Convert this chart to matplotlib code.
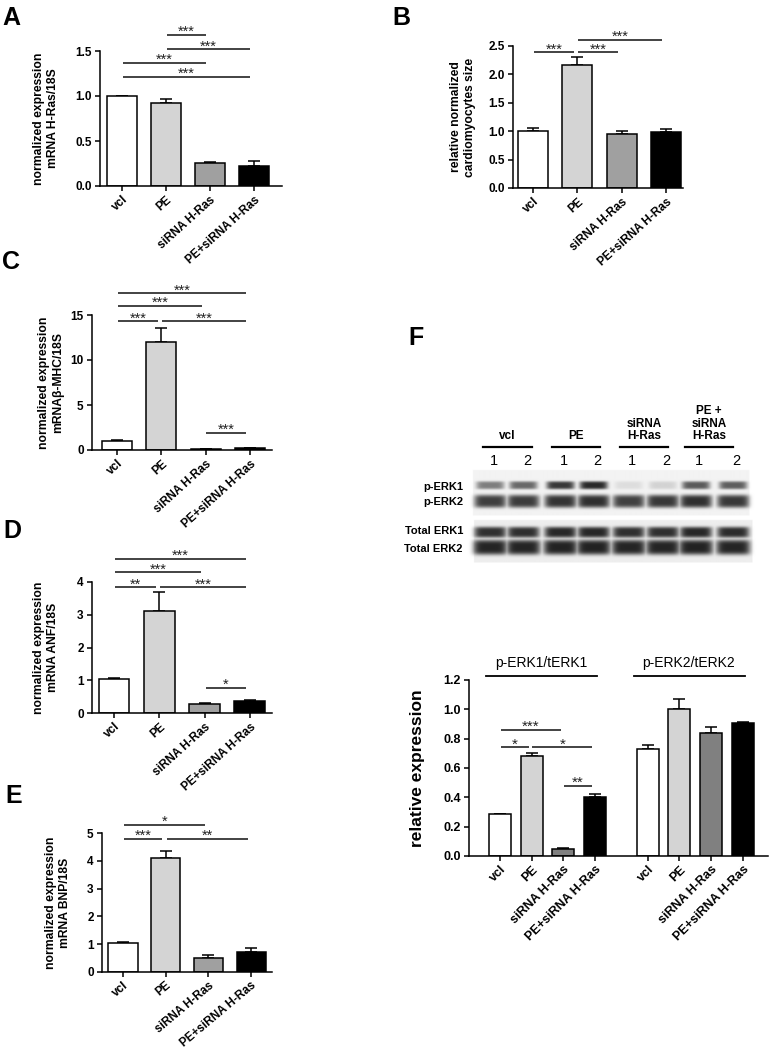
import numpy as np
import matplotlib
matplotlib.use("Agg")
import matplotlib.pyplot as plt
from matplotlib.lines import Line2D

plt.rcParams['font.family'] = ['Liberation Sans', 'DejaVu Sans']

# ---------------- data ----------------
groups = ["vcl", "PE", "siRNA H-Ras", "PE+siRNA H-Ras"]

a_vals = [1.00, 0.92, 0.26, 0.22]
a_errs = [0.005, 0.05, 0.005, 0.06]
a_sig = [(1, 2, 1.68, "***"), (1, 3, 1.52, "***"), (0, 2, 1.37, "***"), (0, 3, 1.21, "***")]

b_vals = [1.00, 2.17, 0.95, 0.99]
b_errs = [0.05, 0.13, 0.05, 0.05]
b_sig = [(0, 1, 2.39, "***"), (1, 2, 2.39, "***"), (1, 3, 2.61, "***")]

c_vals = [1.0, 12.0, 0.10, 0.20]
c_errs = [0.08, 1.6, 0.02, 0.05]
c_sig = [(0, 3, 17.4, "***"), (0, 2, 16.0, "***"), (0, 1, 14.3, "***"), (1, 3, 14.3, "***"), (2, 3, 1.9, "***")]

d_vals = [1.03, 3.10, 0.26, 0.38]
d_errs = [0.05, 0.60, 0.04, 0.03]
d_sig = [(0, 3, 4.7, "***"), (0, 2, 4.3, "***"), (0, 1, 3.84, "**"), (1, 3, 3.84, "***"), (2, 3, 0.76, "*")]

e_vals = [1.03, 4.10, 0.50, 0.73]
e_errs = [0.05, 0.25, 0.10, 0.13]
e_sig = [(0, 2, 5.3, "*"), (0, 1, 4.8, "***"), (1, 3, 4.8, "**")]

f_erk1_vals = [0.285, 0.68, 0.05, 0.405]
f_erk1_errs = [0.002, 0.02, 0.005, 0.02]
f_erk2_vals = [0.73, 1.00, 0.84, 0.91]
f_erk2_errs = [0.03, 0.07, 0.04, 0.005]
f_sig = [(0, 2, 0.86, "***"), (0, 1, 0.74, "*"), (1, 3, 0.74, "*"), (2, 3, 0.48, "**")]
f_headers = ["p-ERK1/tERK1", "p-ERK2/tERK2"]

# western blot band densities (0 = none, 1 = saturated), 8 lanes
blot_groups = ["vcl", "PE", "siRNA\nH-Ras", "PE +\nsiRNA\nH-Ras"]
lane_numbers = ["1", "2"] * 4
perk1_density = [0.55, 0.65, 0.88, 0.95, 0.10, 0.15, 0.72, 0.70]
perk2_density = [0.85, 0.86, 0.90, 0.92, 0.84, 0.88, 0.92, 0.88]
terk1_density = [0.92, 0.92, 0.96, 0.96, 0.92, 0.92, 0.96, 0.94]
terk2_density = [0.97, 0.97, 0.98, 0.98, 0.97, 0.97, 0.98, 0.97]
blot_rows = ["p-ERK1", "p-ERK2", "Total ERK1", "Total ERK2"]

# ---------------- layout ----------------
W, H = 770, 1050
fig = plt.figure(figsize=(W / 100, H / 100), dpi=100)
fig.patch.set_facecolor("white")

colors4 = ["white", "#d4d4d4", "#a0a0a0", "black"]
colorsF = ["white", "#d4d4d4", "#808080", "black"]


def add_ax(l, t, r, b):
    return fig.add_axes([l / W, 1 - b / H, (r - l) / W, (b - t) / H])


def style_ax(ax, tick_fs):
    for s in ["top", "right"]:
        ax.spines[s].set_visible(False)
    for s in ["left", "bottom"]:
        ax.spines[s].set_linewidth(1.1)
    ax.tick_params(axis="both", direction="out", length=3.5, width=1.1, labelsize=tick_fs, pad=2.5)
    ax.tick_params(axis="x", pad=2)
    for lab in ax.get_yticklabels():
        lab.set_fontweight("bold")


def draw_sig(ax, x, sigs, fs):
    for i, j, y, txt in sigs:
        x1 = x[i] + 0.02
        x2 = x[j] - 0.08
        ax.plot([x1, x2], [y, y], color="#222222", lw=1.2, clip_on=False, solid_capstyle="butt")
        ax.annotate(txt, xy=((x1 + x2) / 2, y), xytext=(0, -3.0), textcoords="offset points",
                    ha="center", va="bottom", fontsize=fs, color="#222222", annotation_clip=False)


def bar_panel(box, c0, sp, vals, errs, cols, yticks, fmt, sigs, ylabel, ylab_x,
              tick_fs=8.5, xl_fs=7.3, ylab_fs=8.7, width=0.68, sig_fs=10.5, rot=42):
    l, t, r, b = box
    ax = add_ax(l, t, r, b)
    x = np.arange(len(vals))
    ax.bar(x, vals, width=width, color=cols, edgecolor="black", linewidth=1.1, zorder=2)
    ax.errorbar(x, vals, yerr=[np.zeros(len(vals)), errs], fmt="none", ecolor="black",
                elinewidth=1.1, capsize=4.5, capthick=1.1, zorder=1)
    ax.set_xlim((l - c0) / sp, (r - c0) / sp)
    ax.set_ylim(0, yticks[-1])
    ax.set_yticks(yticks)
    ax.set_yticklabels([fmt.format(v) for v in yticks])
    ax.set_xticks(x)
    ax.set_xticklabels(groups, rotation=rot, ha="right", rotation_mode="anchor",
                       fontsize=xl_fs, fontweight="bold")
    style_ax(ax, tick_fs)
    draw_sig(ax, x, sigs, sig_fs)
    fig.text(ylab_x / W, 1 - ((t + b) / 2) / H, ylabel, rotation=90, ha="center", va="center",
             multialignment="center", fontsize=ylab_fs, fontweight="bold")
    return ax


bar_panel((100, 51, 282, 186), 122, 44, a_vals, a_errs, colors4, [0, 0.5, 1.0, 1.5], "{:.1f}",
          a_sig, "normalized expression\nmRNA H-Ras/18S", 46)
bar_panel((513, 46, 683, 188), 533, 44.3, b_vals, b_errs, colors4, [0, 0.5, 1.0, 1.5, 2.0, 2.5], "{:.1f}",
          b_sig, "relative normalized\ncardiomyocytes size", 463)
bar_panel((92, 315, 272, 450), 117, 44.3, c_vals, c_errs, colors4, [0, 5, 10, 15], "{:d}",
          c_sig, "normalized expression\nmRNA\u03b2-MHC/18S", 51)
bar_panel((92, 582, 272, 713), 114, 45.3, d_vals, d_errs, colors4, [0, 1, 2, 3, 4], "{:d}",
          d_sig, "normalized expression\nmRNA ANF/18S", 46)
bar_panel((102, 833, 272, 972), 123, 42.7, e_vals, e_errs, colors4, [0, 1, 2, 3, 4, 5], "{:d}",
          e_sig, "normalized expression\nmRNA BNP/18S", 58, xl_fs=6.3, rot=40)

# ---------------- panel F chart ----------------
l, t, r, b = 469, 680, 768, 856
axf = add_ax(l, t, r, b)
sp = 31.6
gap = 53 / sp + 3
x1 = np.arange(4)
x2 = np.arange(4) + gap
axf.bar(x1, f_erk1_vals, width=0.7, color=colorsF, edgecolor="black", linewidth=1.1, zorder=2)
axf.bar(x2, f_erk2_vals, width=0.7, color=colorsF, edgecolor="black", linewidth=1.1, zorder=2)
axf.errorbar(x1, f_erk1_vals, yerr=[np.zeros(4), f_erk1_errs], fmt="none", ecolor="black",
             elinewidth=1.1, capsize=4, capthick=1.1, zorder=1)
axf.errorbar(x2, f_erk2_vals, yerr=[np.zeros(4), f_erk2_errs], fmt="none", ecolor="black",
             elinewidth=1.1, capsize=4, capthick=1.1, zorder=1)
axf.set_xlim((l - 500) / sp, (r - 500) / sp)
fyt = [0.0, 0.2, 0.4, 0.6, 0.8, 1.0, 1.2]
axf.set_ylim(0, 1.2)
axf.set_yticks(fyt)
axf.set_yticklabels(["{:.1f}".format(v) for v in fyt])
axf.set_xticks(np.concatenate([x1, x2]))
axf.set_xticklabels(groups * 2, rotation=45, ha="right", rotation_mode="anchor",
                    fontsize=9, fontweight="bold")
style_ax(axf, 9)
draw_sig(axf, x1, f_sig, 11)
for xs, hdr in zip([x1, x2], f_headers):
    axf.plot([xs[0] - 0.44, xs[0] + 3.07], [1.23, 1.23], color="black", lw=1.3, clip_on=False)
    axf.text(xs[0] + 1.3, 1.265, hdr, ha="center", va="bottom", fontsize=10)
fig.text(418 / W, 1 - 768 / H, "relative expression", rotation=90, ha="center", va="center",
         fontsize=12.5, fontweight="bold")

# ---------------- western blot ----------------
bl, bt, br, bb = 465, 466, 756, 566
axb = add_ax(bl, bt, br, bb)
yy, xx = np.mgrid[bt:bb:0.5, bl:br:0.5]
img = np.ones_like(xx)
blot_boxes = [(473, 470, 748, 515, 0.95), (474, 520, 751, 562, 0.93)]
for (x0, y0, x1b, y1b, g) in blot_boxes:
    m = (xx >= x0) & (xx <= x1b) & (yy >= y0) & (yy <= y1b)
    img[m] = g
lane_x = [490, 523, 560, 593, 628, 662, 695, 732]
row_specs = [(485, 4.0, 14, perk1_density), (501, 6.5, 16, perk2_density),
             (532, 5.5, 16, terk1_density), (547, 7.5, 17, terk2_density)]
dark = 0.12
darkness = np.zeros_like(xx)
for yc, hh, hw, dens in row_specs:
    for xc, d in zip(lane_x, dens):
        s = np.exp(-(np.abs(xx - xc) / hw) ** 6 - (np.abs(yy - yc) / hh) ** 4)
        darkness = np.maximum(darkness, d * s)
img = img * (1 - darkness) + dark * darkness
axb.imshow(img, cmap="gray", vmin=0, vmax=1, extent=[bl, br, bb, bt], aspect="auto",
           interpolation="bilinear")
axb.set_xlim(bl, br)
axb.set_ylim(bb, bt)
axb.axis("off")

row_label_y = [487, 502, 531, 549]
for name, yl in zip(blot_rows, row_label_y):
    fig.text(463 / W, 1 - yl / H, name, ha="right", va="center", fontsize=8, fontweight="bold")

grp_lines = [(483, 532), (552, 600), (620, 668), (685, 733)]
for (gx1, gx2), name in zip(grp_lines, blot_groups):
    fig.add_artist(Line2D([gx1 / W, gx2 / W], [1 - 447 / H] * 2, transform=fig.transFigure,
                          color="black", lw=1.6))
    fig.text(((gx1 + gx2) / 2) / W, 1 - 442 / H, name, ha="center", va="bottom",
             fontsize=8.5, fontweight="bold", multialignment="center", linespacing=1.05)
for xc, num in zip(lane_x, lane_numbers):
    fig.text((xc + 4) / W, 1 - 461 / H, num, ha="center", va="center", fontsize=10.5)

# ---------------- panel letters ----------------
for letter, (lx, ly) in {"A": (2, 6), "B": (392, 6), "C": (2, 250),
                         "D": (3, 519), "E": (5, 784), "F": (408, 326)}.items():
    fig.text(lx / W, 1 - ly / H, letter, ha="left", va="top", fontsize=18, fontweight="bold")

fig.savefig("out.png", dpi=100)
